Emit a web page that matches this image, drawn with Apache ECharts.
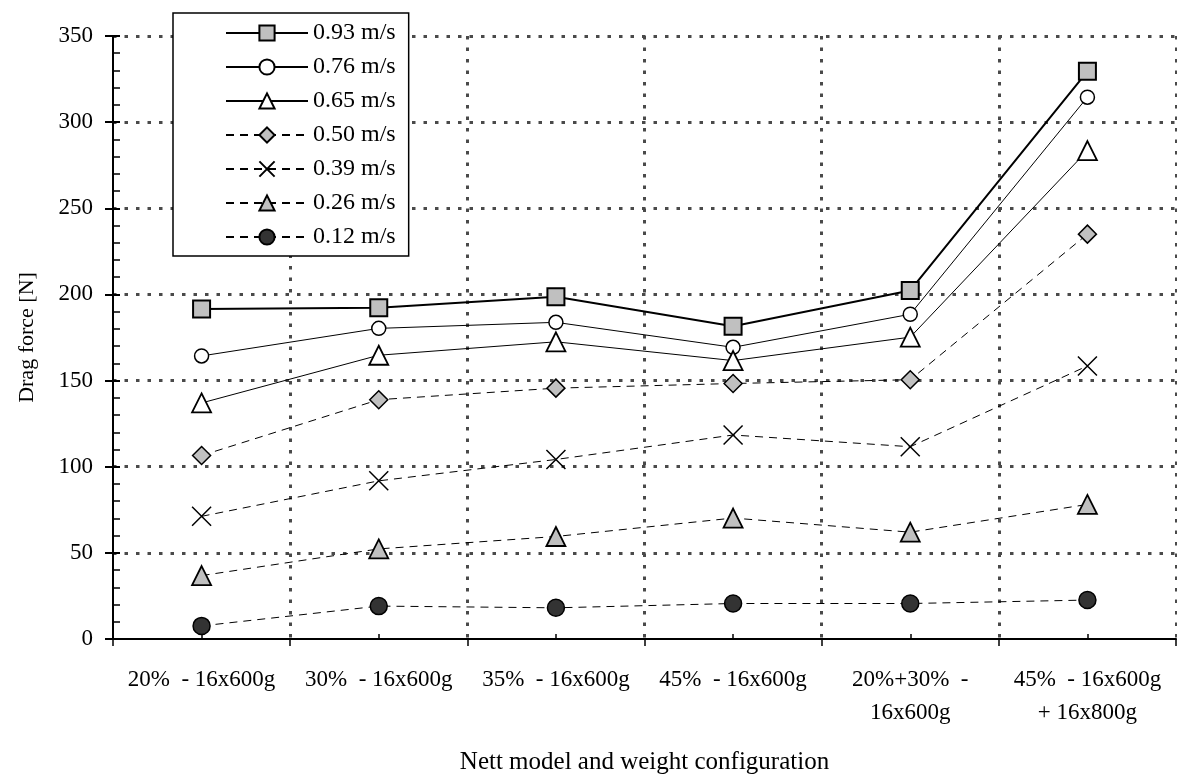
<!DOCTYPE html>
<html>
<head>
<meta charset="utf-8">
<script src="https://cdn.jsdelivr.net/npm/echarts@6/dist/echarts.min.js"></script>
<style>
html,body{margin:0;padding:0;background:#fff;}
#chart{width:1177px;height:780px;}
</style>
</head>
<body>
<div id="chart"></div>
<script>
const categories = ['20%  - 16x600g', '30%  - 16x600g', '35%  - 16x600g', '45%  - 16x600g', '20%+30%  -\n16x600g', '45%  - 16x600g\n+ 16x800g'];
const seriesNames = ['0.93 m/s', '0.76 m/s', '0.65 m/s', '0.50 m/s', '0.39 m/s', '0.26 m/s', '0.12 m/s'];
const v093 = [191.5, 192.3, 198.6, 181.5, 202.3, 329.5];
const v076 = [164.3, 180.3, 183.8, 169.3, 188.5, 314.5];
const v065 = [137.0, 164.7, 172.5, 161.6, 175.2, 283.5];
const v050 = [106.5, 138.9, 145.6, 148.3, 150.5, 235.0];
const v039 = [71.2, 91.8, 104.2, 118.4, 111.6, 158.5];
const v026 = [36.8, 52.3, 59.5, 70.2, 62.0, 78.1];
const v012 = [7.6, 19.1, 18.1, 20.6, 20.6, 22.6];
const yTicks = {min: 0, max: 350, interval: 50};

const FONT = "'Liberation Serif', 'Times New Roman', serif";
const XSYM = 'path://M0,0L20,20M20,0L0,20';
const GRID_LINE = {color: '#4a4a4a', width: 3, type: [3.5, 8]};

function mk(name, data, symbol, size, fill, lw, dashed, bw) {
  return {
    name: name, type: 'line', data: data,
    symbol: symbol, symbolSize: size,
    lineStyle: {color: '#000', width: lw, type: dashed ? [8, 6] : 'solid'},
    itemStyle: {color: fill, borderColor: '#000', borderWidth: bw},
    emphasis: {disabled: true},
    z: 3
  };
}

const chart = echarts.init(document.getElementById('chart'), null, {renderer: 'canvas'});
chart.setOption({
  animation: false,
  backgroundColor: '#fff',
  textStyle: {fontFamily: FONT, color: '#000'},
  grid: {left: 113, right: 1, top: 36, bottom: 132, containLabel: false},
  legend: {
    orient: 'vertical', left: 173, top: 13,
    data: seriesNames,
    itemWidth: 82, itemHeight: 19, itemGap: 10,
    padding: [8, 13, 7, 52],
    backgroundColor: '#fff', borderColor: '#000', borderWidth: 1.5,
    textStyle: {fontFamily: FONT, fontSize: 24, color: '#000', lineHeight: 24},
    selectedMode: false, z: 10
  },
  xAxis: [{
    type: 'category', data: categories, position: 'bottom',
    boundaryGap: true,
    name: 'Nett model and weight configuration', nameLocation: 'middle', nameGap: 111,
    nameTextStyle: {fontFamily: FONT, fontSize: 25, color: '#000'},
    axisLine: {lineStyle: {color: '#000', width: 2}},
    axisTick: {show: true, inside: false, length: 7, alignWithLabel: false, interval: 0, lineStyle: {color: '#000', width: 1.5}},
    axisLabel: {interval: 0, margin: 24, fontFamily: FONT, fontSize: 23, color: '#000', lineHeight: 33, align: 'center'},
    splitLine: {show: true, interval: 0, showMinLine: false, lineStyle: GRID_LINE}
  }, {
    type: 'category', data: categories, position: 'bottom',
    boundaryGap: true,
    axisLine: {show: false},
    axisTick: {show: true, inside: true, length: 5, alignWithLabel: true, interval: 0, lineStyle: {color: '#000', width: 1.5}},
    axisLabel: {show: false},
    splitLine: {show: false}
  }],
  yAxis: [{
    type: 'value', position: 'left',
    min: yTicks.min, max: yTicks.max, interval: yTicks.interval,
    name: 'Drag force [N]', nameLocation: 'middle', nameGap: 75,
    nameTextStyle: {fontFamily: FONT, fontSize: 22, color: '#000'},
    axisLine: {show: true, lineStyle: {color: '#000', width: 2}},
    axisTick: {show: true, inside: false, length: 8, lineStyle: {color: '#000', width: 2}},
    axisLabel: {margin: 20, fontFamily: FONT, fontSize: 23, color: '#000'},
    splitLine: {show: true, showMinLine: false, lineStyle: GRID_LINE}
  }, {
    type: 'value', position: 'left',
    min: yTicks.min, max: yTicks.max, interval: yTicks.interval,
    axisLine: {show: false},
    axisTick: {show: true, inside: true, length: 7, lineStyle: {color: '#000', width: 2}},
    minorTick: {show: true, splitNumber: 5, length: 7, lineStyle: {color: '#000', width: 1.5}},
    axisLabel: {show: false},
    splitLine: {show: false}
  }],
  series: [
    mk(seriesNames[0], v093, 'rect', 17, '#c0c0c0', 2, false, 2),
    mk(seriesNames[1], v076, 'circle', 14, '#fff', 1, false, 1.5),
    mk(seriesNames[2], v065, 'triangle', 19, '#fff', 1, false, 1.8),
    mk(seriesNames[3], v050, 'diamond', 18, '#c0c0c0', 1, true, 1.5),
    mk(seriesNames[4], v039, XSYM, 19, '#000', 1, true, 1.5),
    mk(seriesNames[5], v026, 'triangle', 19, '#c0c0c0', 1, true, 1.8),
    mk(seriesNames[6], v012, 'circle', 17, '#333', 1, true, 1.5)
  ]
});
</script>
</body>
</html>
